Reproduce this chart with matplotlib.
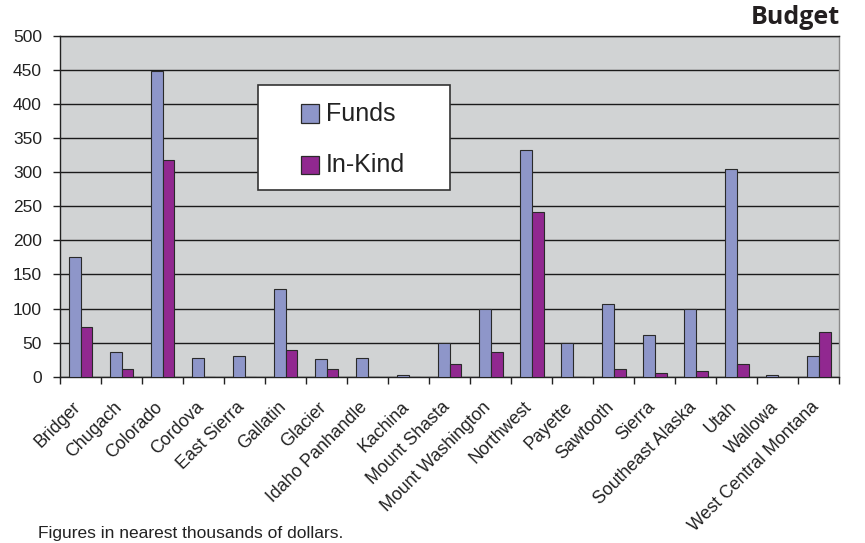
import numpy as np
import matplotlib
matplotlib.use("Agg")
import matplotlib.pyplot as plt
from matplotlib.patches import Rectangle
from matplotlib.transforms import ScaledTranslation

# Valores (milhares de dolares)
forests = ["Bridger", "Chugach", "Colorado", "Cordova", "East Sierra", "Gallatin",
           "Glacier", "Idaho Panhandle", "Kachina", "Mount Shasta",
           "Mount Washington", "Northwest", "Payette", "Sawtooth", "Sierra",
           "Southeast Alaska", "Utah", "Wallowa", "West Central Montana"]
funds = [175, 37, 448, 28, 30, 129, 26, 28, 2, 50, 99, 332, 50, 107, 62, 99, 305, 2, 30]
in_kind = [73, 11, 318, 0, 0, 39, 11, 0, 0, 19, 37, 241, 0, 11, 6, 8, 19, 0, 65]
y_ticks = [0, 50, 100, 150, 200, 250, 300, 350, 400, 450, 500]

FUNDS_COLOR = "#8e96c9"
INKIND_COLOR = "#912890"
BG = "#d1d3d4"

plt.rcParams["font.family"] = ["Liberation Sans", "DejaVu Sans"]

fig = plt.figure(figsize=(8.65, 5.43), dpi=100)
ax = fig.add_axes([0.0694, 0.306, 0.9011, 0.6286])
ax.set_facecolor(BG)

x = np.arange(len(forests))
w = 0.2857
ax.bar(x - w / 2, funds, w, color=FUNDS_COLOR, edgecolor="#2a2a2a", linewidth=0.8, zorder=3)
ax.bar(x + w / 2, in_kind, w, color=INKIND_COLOR, edgecolor="#2a2a2a", linewidth=0.8, zorder=3)

ax.set_xlim(-0.5, len(forests) - 0.5)
ax.set_ylim(0, 500)
ax.set_yticks(y_ticks)
ax.tick_params(axis="y", labelsize=12.5, length=5, width=1, pad=8, colors="#222222")

# linhas de grade
ax.grid(axis="y", color="#1a1a1a", linewidth=1.0, zorder=1)
ax.set_axisbelow(True)

# rotulos das categorias, ticks entre os grupos
ax.set_xticks(x)
ax.set_xticklabels(forests, rotation=45, ha="right", va="center",
                   rotation_mode="anchor", fontsize=12.8, color="#222222")
ax.tick_params(axis="x", which="major", length=0, pad=20)
shift = ScaledTranslation(-0.025, 0, fig.dpi_scale_trans)
for lbl in ax.get_xticklabels():
    lbl.set_transform(lbl.get_transform() + shift)
ax.set_xticks(np.arange(-0.5, len(forests), 1.0), minor=True)
ax.tick_params(axis="x", which="minor", length=5, width=1, color="#222222")

for side in ["left", "bottom", "top"]:
    ax.spines[side].set_color("#222222")
    ax.spines[side].set_linewidth(1.0)
ax.spines["right"].set_color("#8a8a8a")
ax.spines["right"].set_linewidth(1.0)

# legenda desenhada a mao
ax.add_patch(Rectangle((0.2544, 0.5488), 0.2459, 0.3076, transform=ax.transAxes,
                       facecolor="white", edgecolor="#333333", linewidth=1.2, zorder=5))
for yc, col, lab in [(0.7715, FUNDS_COLOR, "Funds"), (0.6203, INKIND_COLOR, "In-Kind")]:
    ax.add_patch(Rectangle((0.3088, yc - 0.0272), 0.0239, 0.0545, transform=ax.transAxes,
                           facecolor=col, edgecolor="#2a2a2a", linewidth=0.9, zorder=6))
    ax.text(0.3412, yc, lab, transform=ax.transAxes, fontsize=18, va="center",
            ha="left", color="#222222", zorder=6)

fig.text(0.971, 0.967, "Budget", ha="right", va="center", fontsize=18,
         fontweight="bold", family=["Open Sans", "DejaVu Sans"], color="#231f20")
fig.text(0.044, 0.004, "Figures in nearest thousands of dollars.", ha="left", va="bottom",
         fontsize=12.5, color="#222222")

fig.savefig("out.png", dpi=100)
